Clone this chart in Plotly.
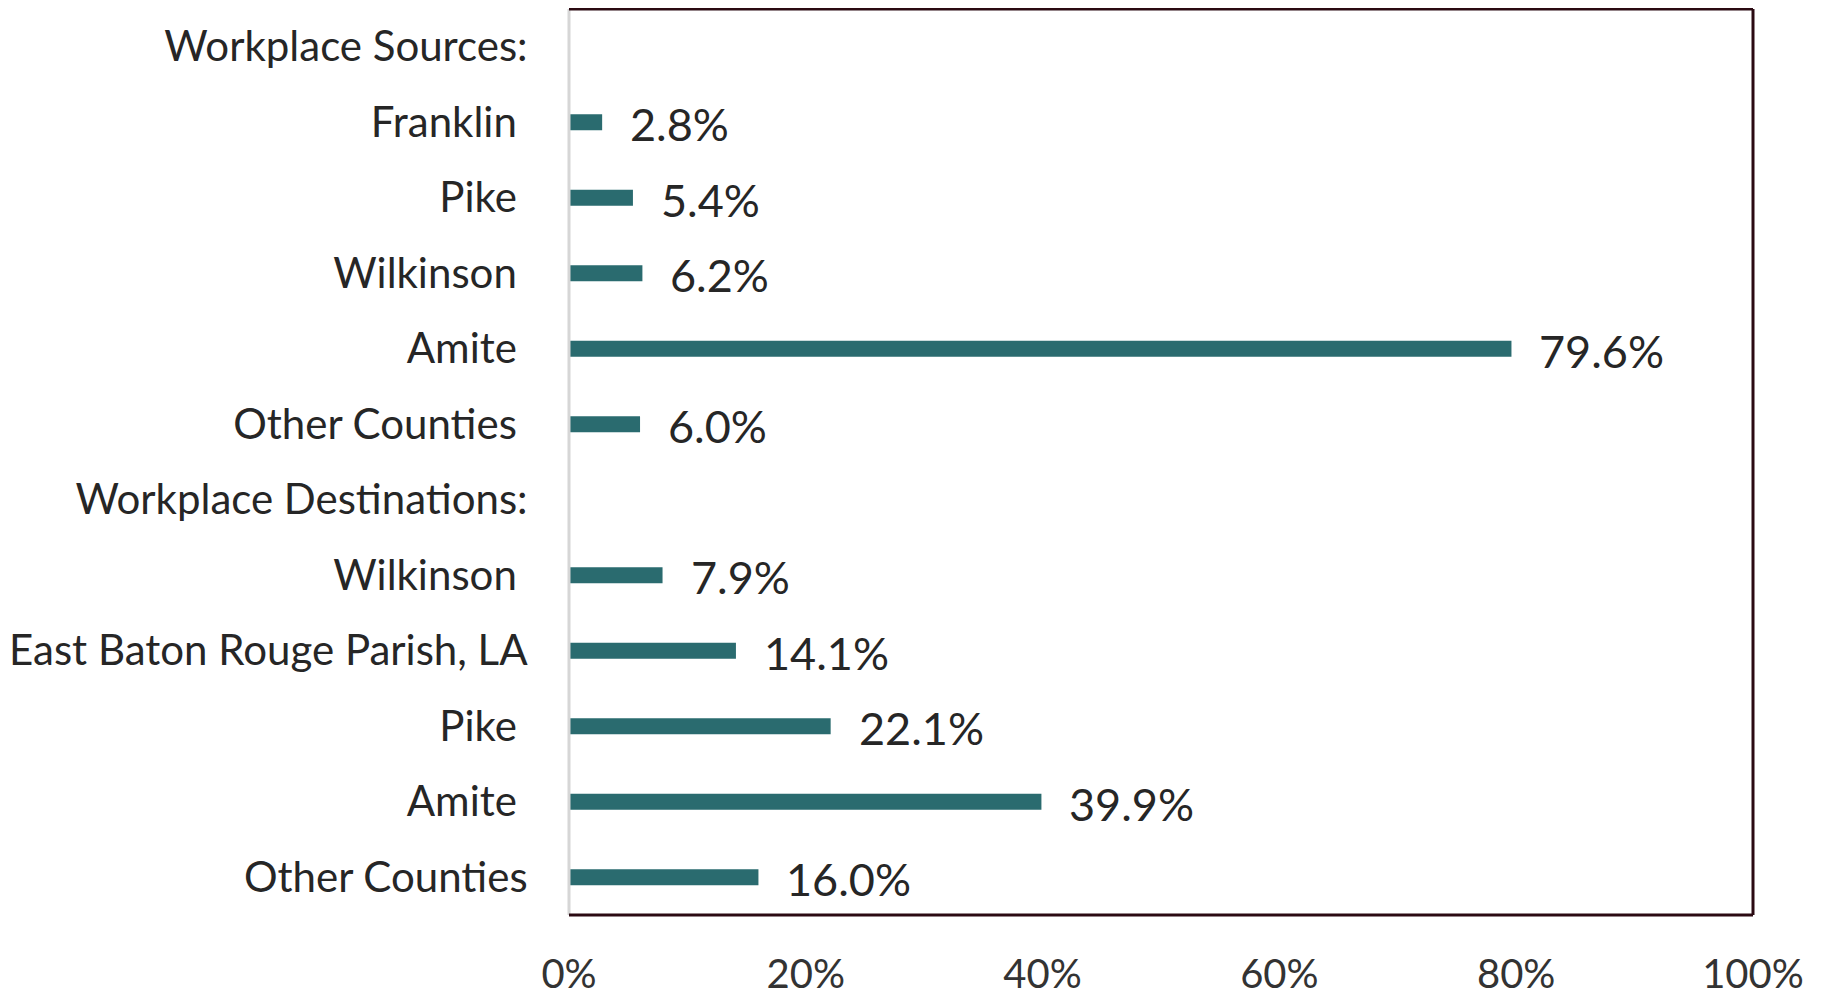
import plotly.graph_objects as go

labels = ["Workplace Sources:", "Franklin\u00a0", "Pike\u00a0", "Wilkinson\u00a0", "Amite\u00a0",
          "Other Counties\u00a0", "Workplace Destinations:", "Wilkinson\u00a0",
          "East Baton Rouge Parish, LA", "Pike\u00a0", "Amite\u00a0", "Other Counties"]
values = [None, 2.8, 5.4, 6.2, 79.6, 6.0, None, 7.9, 14.1, 22.1, 39.9, 16.0]
x_ticks = [0, 20, 40, 60, 80, 100]
x_ticktext = ["0%", "20%", "40%", "60%", "80%", "100%"]

ypos = list(range(len(labels)))
bar_x = [v if v is not None else 0 for v in values]

FONT = "Lato"
BAR = "#2a6b6f"
BORDER = "#2b0a12"

fig = go.Figure()
fig.add_trace(go.Bar(
    x=bar_x, y=ypos, orientation="h", marker=dict(color=BAR, line=dict(width=0)),
    width=0.21, hoverinfo="skip"))

annotations = []
for v, y in zip(values, ypos):
    if v is None:
        continue
    annotations.append(dict(
        x=v, y=y, xref="x", yref="y", text="%.1f%%" % v, showarrow=False,
        xanchor="left", yanchor="middle", xshift=26, yshift=-2,
        font=dict(family=FONT, size=45, color="#262626")))

fig.update_layout(
    width=1828, height=995,
    margin=dict(l=561, r=83, t=1, b=88),
    paper_bgcolor="white", plot_bgcolor="white",
    showlegend=False,
    font=dict(family=FONT, color="#262626"),
    annotations=annotations,
    xaxis=dict(range=[0, 100], tickvals=x_ticks, ticktext=x_ticktext,
               showgrid=False, zeroline=False, showline=False,
               ticks="outside", ticklen=24, tickcolor="rgba(0,0,0,0)",
               tickfont=dict(family=FONT, size=40, color="#333333")),
    yaxis=dict(range=[len(labels) - 0.5, -0.5], tickvals=ypos, ticktext=labels,
               showgrid=False, zeroline=False, showline=False,
               ticks="outside", ticklen=32, tickcolor="rgba(0,0,0,0)",
               tickfont=dict(family=FONT, size=42, color="#262626")),
    shapes=[
        dict(type="line", xref="paper", yref="paper", x0=0, x1=0, y0=0, y1=1,
             line=dict(color="#d6d6d6", width=3)),
        dict(type="line", xref="paper", yref="paper", x0=0, x1=1, y0=1, y1=1,
             line=dict(color=BORDER, width=3)),
        dict(type="line", xref="paper", yref="paper", x0=1, x1=1, y0=0, y1=1,
             line=dict(color=BORDER, width=3)),
        dict(type="line", xref="paper", yref="paper", x0=0, x1=1, y0=0, y1=0,
             line=dict(color=BORDER, width=3)),
    ],
)

fig.write_html("out.html")
